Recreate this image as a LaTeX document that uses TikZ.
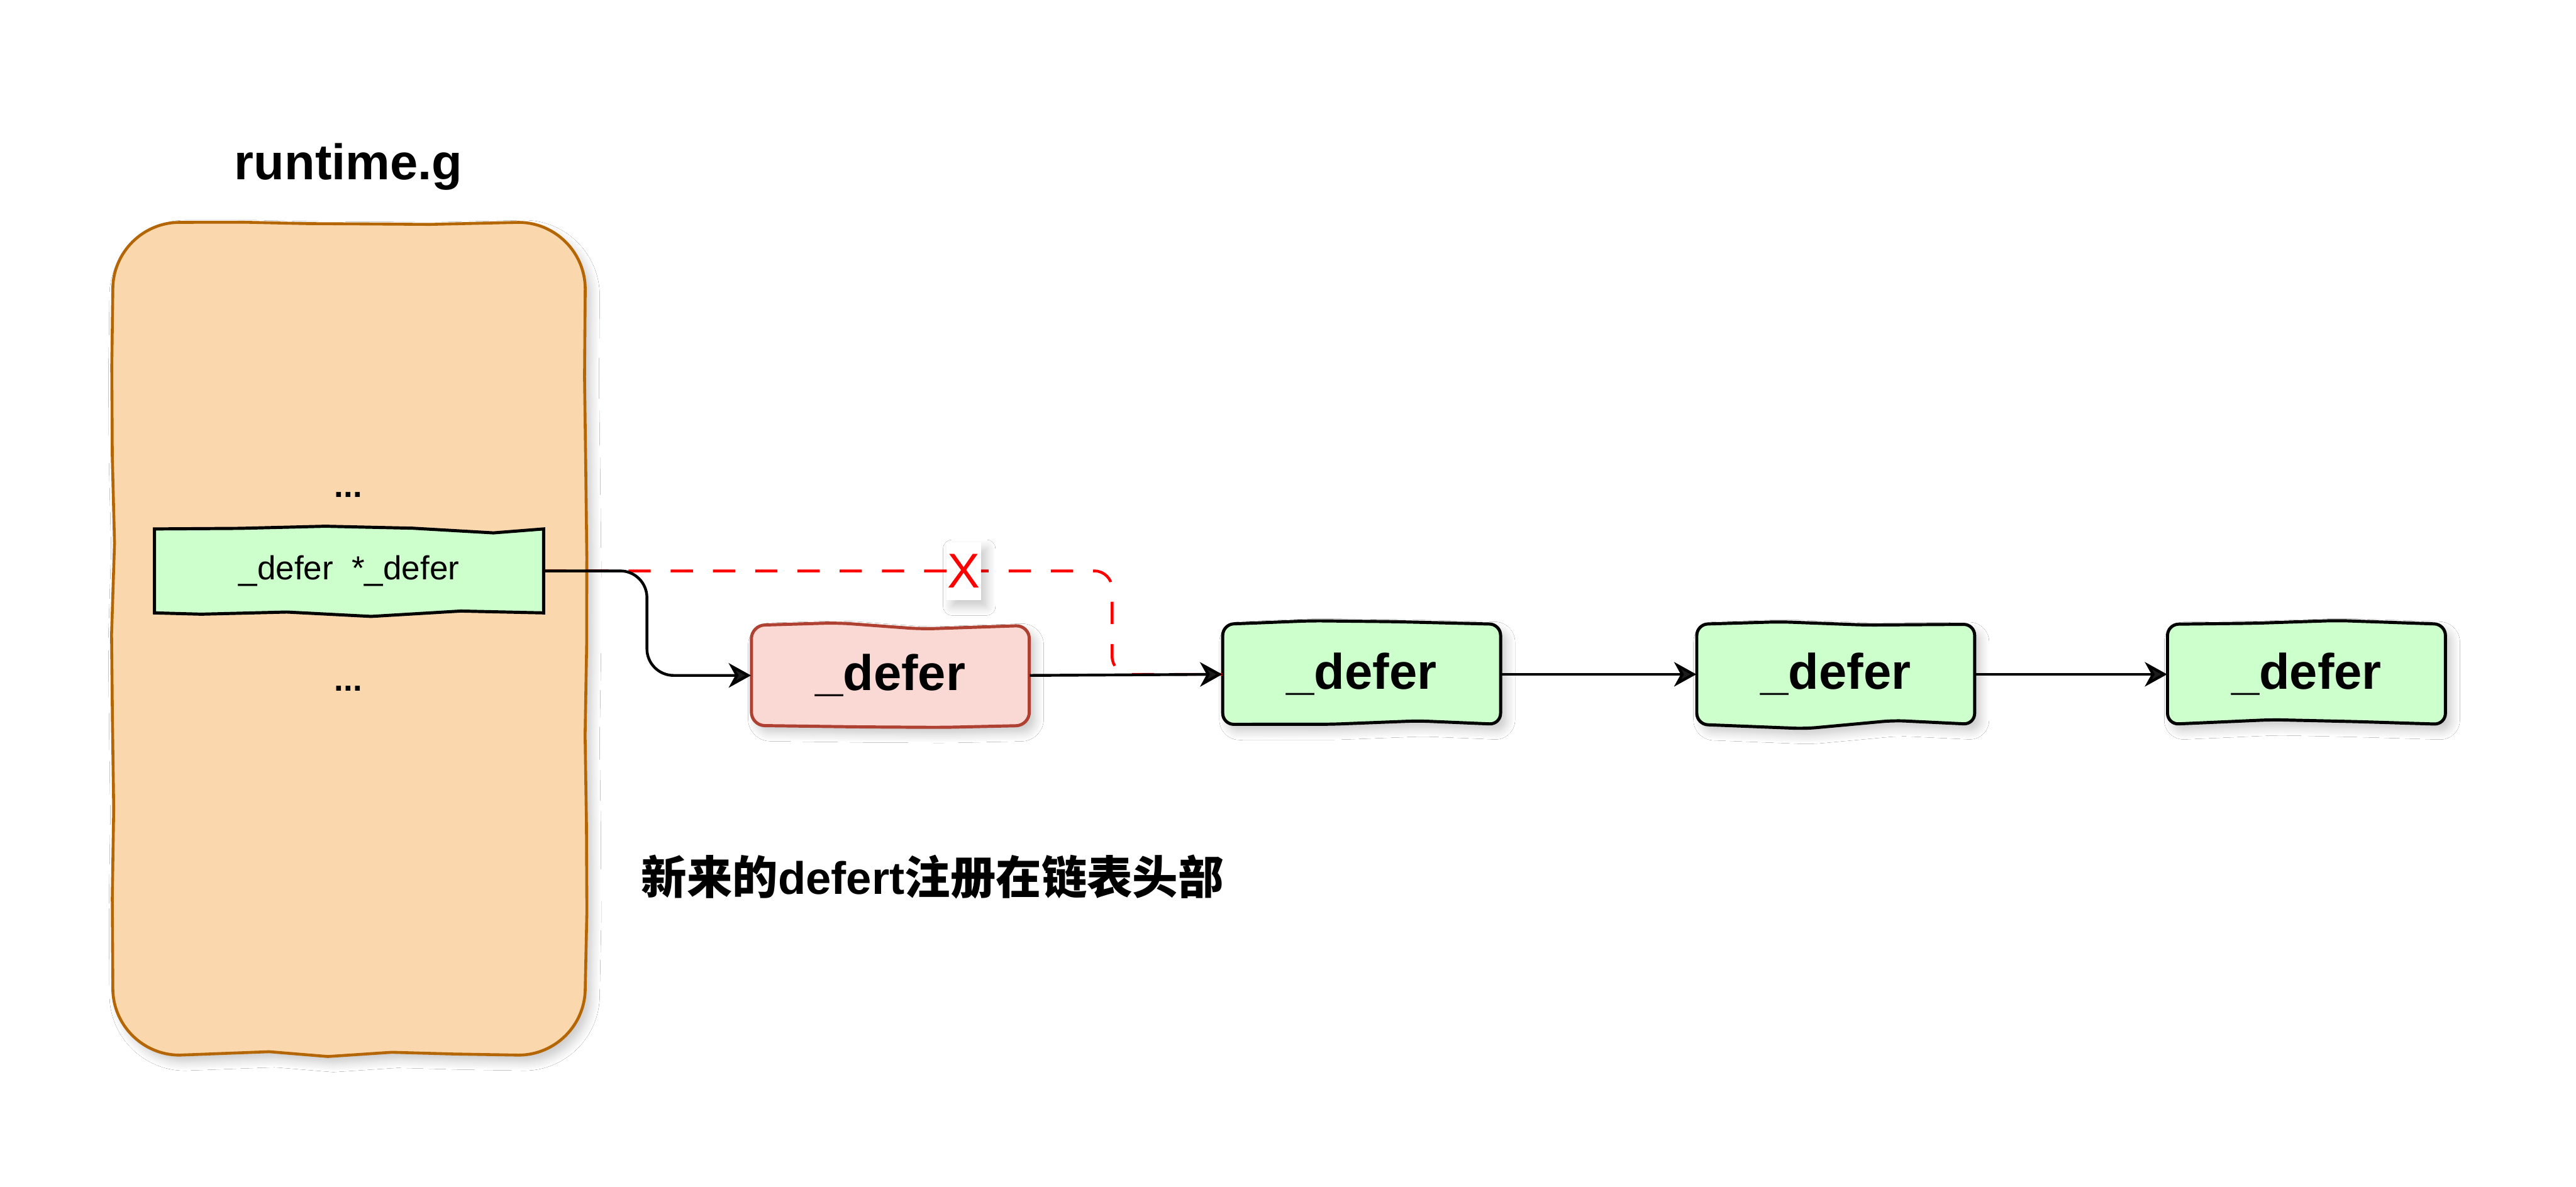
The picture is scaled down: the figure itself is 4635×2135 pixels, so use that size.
\documentclass[tikz,border=0pt]{standalone}
\usepackage{fontspec}
\setmainfont{Liberation Sans}
\newfontfamily\cjk{Noto Sans CJK SC}
\usetikzlibrary{arrows.meta,decorations.pathmorphing,shadows.blur}
\definecolor{orfill}{HTML}{FAD7AC}
\definecolor{orline}{HTML}{B46504}
\definecolor{grfill}{HTML}{CCFFCC}
\definecolor{pkfill}{HTML}{FAD9D5}
\definecolor{pkline}{HTML}{AE4132}
\definecolor{xred}{HTML}{FF0000}
% sketchy rectangle: wavy top and bottom, straight sides
% #1 style, (#2,#3) top left, (#4,#5) bottom right
\newcommand{\sketchrect}[5]{%
  \path[#1] (#2,#3)
    decorate[decoration={random steps,segment length=38pt,amplitude=2.3pt}] {-- (#4,#3)}
    -- (#4,#5)
    decorate[decoration={random steps,segment length=38pt,amplitude=2.3pt}] {-- (#2,#5)}
    -- cycle;}
\begin{document}
\begin{tikzpicture}[x=0.25pt,y=-0.25pt,
  shad/.style={blur shadow={shadow xshift=2.5pt,shadow yshift=-3pt,shadow blur steps=10,shadow blur radius=4pt,shadow opacity=22}},
  bigfont/.style={font=\bfseries\fontsize{22.5}{27}\selectfont},
  listbox/.style={minimum width=125pt,minimum height=45pt,inner sep=0pt,bigfont},
  greenline/.style={draw=black,fill=grfill,line width=1.4pt,rounded corners=5pt,shad},
  pinkline/.style={draw=pkline,fill=pkfill,line width=1.4pt,rounded corners=6pt,shad},
  link/.style={line width=1.25pt,-{Stealth[length=10pt,width=11pt,inset=3pt]}},
  plainlabel/.style={inner sep=0pt}
]
\pgfmathsetseed{11}
\useasboundingbox (0,0) rectangle (4635,2135);
\fill[white] (0,0) rectangle (4635,2135);

% container runtime.g
\path[line width=1.3pt,draw=orline,fill=orfill,shad]
  (323,400)
  decorate[decoration={random steps,segment length=28pt,amplitude=1.8pt}] {-- (933,400)}
  .. controls (999,400) and (1053,454) .. (1053,520)
  decorate[decoration={random steps,segment length=40pt,amplitude=0.9pt}] {-- (1053,1778)}
  .. controls (1053,1844) and (999,1898) .. (933,1898)
  decorate[decoration={random steps,segment length=28pt,amplitude=1.8pt}] {-- (323,1898)}
  .. controls (257,1898) and (203,1844) .. (203,1778)
  decorate[decoration={random steps,segment length=40pt,amplitude=0.9pt}] {-- (203,520)}
  .. controls (203,454) and (257,400) .. (323,400) -- cycle;

% box outlines
\sketchrect{draw=black,fill=grfill,line width=1.4pt}{278}{951.5}{978}{1102.5}
\sketchrect{pinkline}{1352}{1125}{1852}{1305}
\sketchrect{greenline}{2200}{1123}{2700}{1303}
\sketchrect{greenline}{3053}{1123}{3553}{1303}
\sketchrect{greenline}{3900}{1123}{4400}{1303}

\node[plainlabel,bigfont] (title) at (627,300) {runtime.g};
\node[plainlabel,font=\bfseries\fontsize{15}{18}\selectfont] (dots1) at (627,890) {...};
\node[plainlabel,font=\bfseries\fontsize{15}{18}\selectfont] (dots2) at (627,1239) {...};

\node[minimum width=175pt,minimum height=37.75pt,inner sep=0pt,
  font=\fontsize{15}{18}\selectfont] (head) at (628,1027) {\_defer\ \ *\_defer};

% list nodes
\node[listbox] (d0) at (1602,1215) {\_defer};
\node[listbox] (d1) at (2450,1213) {\_defer};
\node[listbox] (d2) at (3303,1213) {\_defer};
\node[listbox] (d3) at (4150,1213) {\_defer};

\coordinate (bendA) at (1164,1027);
\coordinate (bendB) at (2001,1027);

% old link (cut)
\draw[line width=1.25pt,xred,dash pattern=on 10pt off 9pt,rounded corners=8pt]
  (head.east) -- (bendB) |- (d1.west);

% links
\draw[link,rounded corners=12pt] (head.east) -- (bendA) |- (d0.west);
\draw[link] (d0.east) -- (d1.west);
\draw[link] (d1.east) -- (d2.west);
\draw[link] (d2.east) -- (d3.west);

\node[fill=white,shad,minimum width=15.5pt,minimum height=26pt,inner sep=0pt,text=xred,
  font=\fontsize{22}{26}\selectfont] (cut) at (1734,1027) {X};

\node[plainlabel,font=\bfseries\fontsize{20.5}{25}\selectfont] (caption) at (1678,1577) {{\cjk 新来的}defert{\cjk 注册在链表头部}};
\end{tikzpicture}
\end{document}
